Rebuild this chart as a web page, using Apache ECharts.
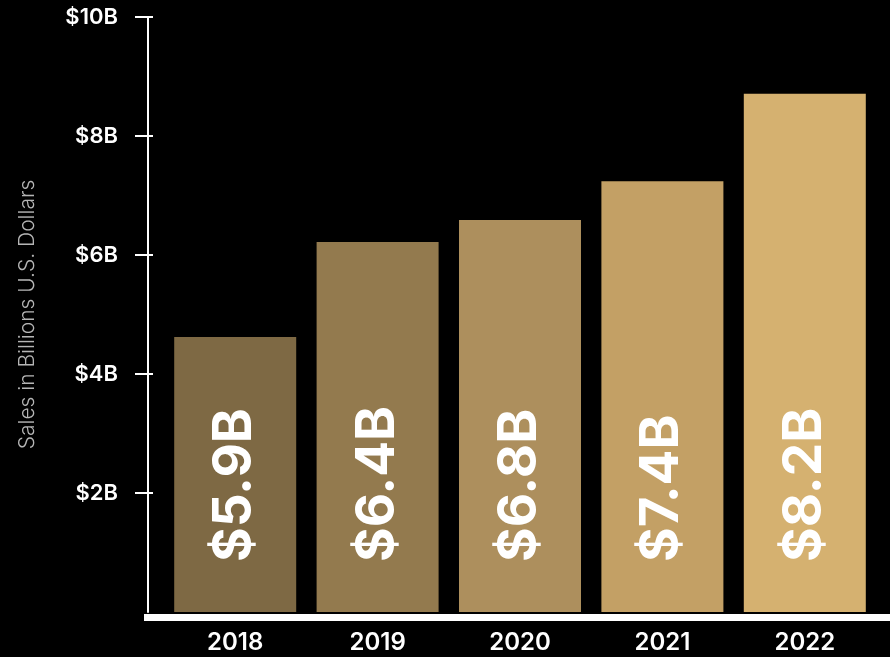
<!DOCTYPE html>
<html>
<head>
<meta charset="utf-8">
<script src="https://cdn.jsdelivr.net/npm/echarts@6/dist/echarts.min.js"></script>
<style>
    html, body {margin: 0; padding: 0; background: #000;}
    #chart {width: 890px; height: 657px;}
</style>
</head>
<body>
<div id="chart"></div>
<script>
// values
var years = ['2018', '2019', '2020', '2021', '2022'];
var barHeights = [4.62, 6.22, 6.59, 7.24, 8.71];
var barLabels = ['$5.9B', '$6.4B', '$6.8B', '$7.4B', '$8.2B'];
var yTickValues = [2, 4, 6, 8, 10];

var salesChart = {
    palette: ['#7e6944', '#937a4e', '#ad8f5d', '#c3a065', '#d5b170'],
    font: 'Inter',
    build() {
        let self = this;
        let barData = [];
        for (let i = 0; i < barHeights.length; i++) {
            barData.push({value: barHeights[i], itemStyle: {color: self.palette[i]}});
        }
        return {
            backgroundColor: '#000',
            animation: false,
            grid: [
                {left: 164, right: 14, top: 17, bottom: 45},
                // only carries the thick base line
                {left: 144, right: 0, top: 17, bottom: 40}
            ],
            xAxis: [{
                type: 'category',
                gridIndex: 0,
                data: years,
                axisLine: {show: false},
                axisTick: {show: false},
                axisLabel: {
                    color: '#fff',
                    fontFamily: self.font,
                    fontWeight: 600,
                    fontSize: 24,
                    margin: 19
                }
            }, {
                type: 'value',
                gridIndex: 1,
                axisLine: {show: true, lineStyle: {color: '#fff', width: 7, cap: 'butt'}},
                axisTick: {show: false},
                axisLabel: {show: false},
                splitLine: {show: false}
            }],
            yAxis: [{
                // axis line + title
                type: 'value',
                gridIndex: 0,
                min: 0,
                max: 10,
                interval: 2,
                offset: 16,
                name: 'Sales in Billions U.S. Dollars',
                nameLocation: 'middle',
                nameGap: 110,
                nameTextStyle: {color: '#b5b5b5', fontFamily: self.font, fontWeight: 300, fontSize: 21},
                axisLine: {show: true, lineStyle: {color: '#fff', width: 2}},
                axisTick: {show: false},
                axisLabel: {show: false},
                splitLine: {show: false}
            }, {
                // ticks + labels
                type: 'value',
                gridIndex: 0,
                min: 0,
                max: 10,
                interval: 2,
                position: 'left',
                offset: 11,
                axisLine: {show: false},
                axisTick: {show: true, length: 18, customValues: yTickValues, lineStyle: {color: '#fff', width: 2}},
                axisLabel: {
                    customValues: yTickValues,
                    color: '#fff',
                    fontFamily: self.font,
                    fontWeight: 600,
                    fontSize: 22,
                    margin: 35,
                    padding: [10, 0, 0, 0],
                    formatter: function (v) { return '$' + v + 'B'; }
                },
                splitLine: {show: false}
            }, {
                type: 'value',
                gridIndex: 1,
                min: 0,
                max: 10,
                show: false
            }],
            series: [{
                type: 'bar',
                xAxisIndex: 0,
                yAxisIndex: 0,
                barWidth: 122,
                data: barData,
                label: {
                    show: true,
                    position: 'insideBottom',
                    rotate: 90,
                    align: 'left',
                    verticalAlign: 'middle',
                    distance: 50,
                    color: '#fff',
                    fontFamily: self.font,
                    fontWeight: 700,
                    fontSize: 53,
                    formatter: function (p) { return barLabels[p.dataIndex]; }
                }
            }]
        };
    }
};

var chart = echarts.init(document.getElementById('chart'));
chart.setOption(salesChart.build());
</script>
</body>
</html>
